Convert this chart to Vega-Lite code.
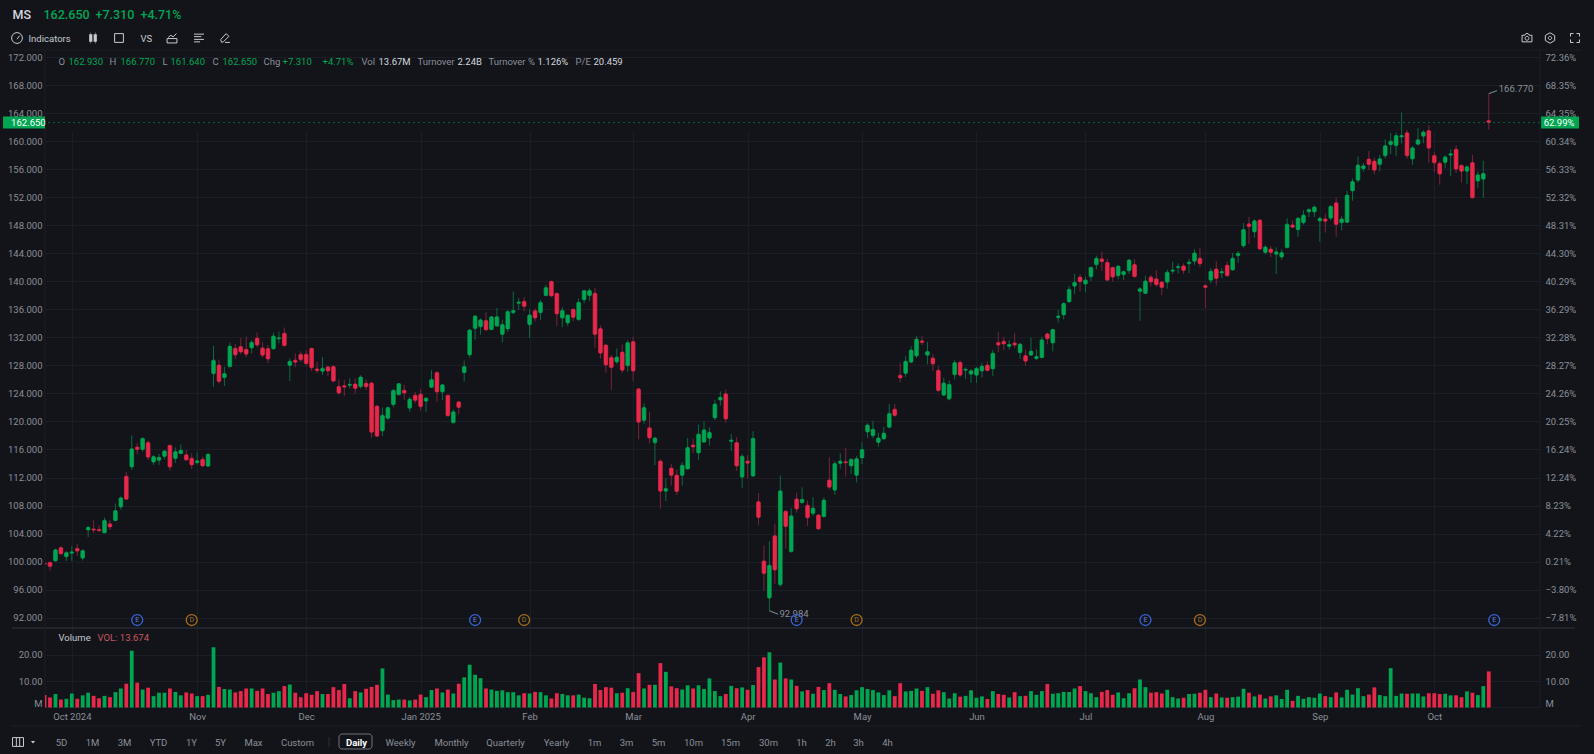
{
  "$schema": "https://vega.github.io/schema/vega-lite/v6.json",
  "width": 1495,
  "height": 657,
  "autosize": {"type": "none"},
  "padding": {"left": 45, "top": 51, "right": 54, "bottom": 46},
  "background": "#12141a",
  "config": {
    "view": {"stroke": null},
    "font": "Roboto",
    "axis": {"title": null, "domain": false, "ticks": false, "grid": false, "labelFont": "Roboto", "labelOverlap": false, "labelFlush": false, "labelBound": false, "labelAngle": 0, "labelColor": "#8b8f98", "labelFontSize": 9.5}
  },
  "datasets": {
    "candles": [
      {"day":-1,"o":99.8,"h":99.9,"l":99.4,"c":99.6,"v":4.7},
      {"day":0,"o":99.9,"h":99.9,"l":98.7,"c":99.3,"v":3.8},
      {"day":1,"o":100.1,"h":101.85,"l":100.0,"c":101.7,"v":5.1},
      {"day":2,"o":102.0,"h":102.2,"l":101.05,"c":101.1,"v":3.0},
      {"day":3,"o":100.7,"h":101.5,"l":100.1,"c":101.3,"v":3.3},
      {"day":4,"o":101.2,"h":102.2,"l":100.1,"c":101.4,"v":5.3},
      {"day":5,"o":101.9,"h":102.5,"l":100.85,"c":101.5,"v":3.3},
      {"day":6,"o":100.5,"h":101.75,"l":100.15,"c":101.6,"v":4.6},
      {"day":7,"o":104.5,"h":105.1,"l":103.5,"c":104.9,"v":5.6},
      {"day":8,"o":104.65,"h":105.9,"l":104.1,"c":104.5,"v":4.4},
      {"day":9,"o":104.6,"h":105.2,"l":104.3,"c":104.4,"v":3.5},
      {"day":10,"o":104.1,"h":106.3,"l":104.1,"c":105.9,"v":4.4},
      {"day":11,"o":105.4,"h":105.9,"l":104.5,"c":104.95,"v":3.9},
      {"day":12,"o":105.85,"h":108.3,"l":105.8,"c":107.3,"v":5.8},
      {"day":13,"o":107.8,"h":109.3,"l":107.4,"c":109.1,"v":7.2},
      {"day":14,"o":112.2,"h":112.8,"l":108.9,"c":108.9,"v":9.0},
      {"day":15,"o":113.5,"h":118.0,"l":113.1,"c":116.1,"v":21.5},
      {"day":16,"o":116.35,"h":116.9,"l":115.3,"c":116.0,"v":9.4},
      {"day":17,"o":116.0,"h":117.7,"l":115.7,"c":117.6,"v":6.8},
      {"day":18,"o":117.0,"h":117.3,"l":114.5,"c":114.9,"v":7.5},
      {"day":19,"o":114.2,"h":115.2,"l":113.8,"c":115.0,"v":4.3},
      {"day":20,"o":114.45,"h":115.4,"l":113.8,"c":114.9,"v":5.6},
      {"day":21,"o":115.0,"h":115.9,"l":114.6,"c":115.8,"v":5.6},
      {"day":22,"o":116.6,"h":116.6,"l":113.0,"c":113.5,"v":7.2},
      {"day":23,"o":114.7,"h":116.3,"l":114.1,"c":115.7,"v":5.9},
      {"day":24,"o":115.4,"h":116.7,"l":115.4,"c":115.9,"v":4.6},
      {"day":25,"o":115.25,"h":115.9,"l":114.45,"c":114.5,"v":5.7},
      {"day":26,"o":114.75,"h":115.45,"l":113.2,"c":113.8,"v":5.3},
      {"day":27,"o":114.1,"h":115.6,"l":113.85,"c":114.4,"v":4.3},
      {"day":28,"o":114.6,"h":115.0,"l":113.5,"c":113.65,"v":4.3},
      {"day":29,"o":113.6,"h":115.45,"l":113.55,"c":115.35,"v":4.8},
      {"day":30,"o":126.8,"h":130.8,"l":124.95,"c":128.75,"v":22.8},
      {"day":31,"o":128.05,"h":128.85,"l":125.4,"c":125.7,"v":7.8},
      {"day":32,"o":126.25,"h":127.8,"l":125.05,"c":126.85,"v":7.0},
      {"day":33,"o":127.8,"h":131.25,"l":127.75,"c":130.75,"v":6.8},
      {"day":34,"o":130.45,"h":131.05,"l":128.9,"c":129.5,"v":5.7},
      {"day":35,"o":130.7,"h":131.9,"l":129.6,"c":129.9,"v":6.2},
      {"day":36,"o":130.3,"h":132.1,"l":129.15,"c":129.6,"v":7.2},
      {"day":37,"o":130.5,"h":131.6,"l":129.7,"c":131.3,"v":7.2},
      {"day":38,"o":131.9,"h":132.7,"l":130.6,"c":130.9,"v":6.3},
      {"day":39,"o":130.5,"h":131.3,"l":129.15,"c":129.45,"v":7.2},
      {"day":40,"o":130.4,"h":130.9,"l":128.3,"c":128.9,"v":5.1},
      {"day":41,"o":130.35,"h":132.7,"l":130.3,"c":132.2,"v":5.6},
      {"day":42,"o":131.8,"h":132.8,"l":131.15,"c":131.95,"v":6.2},
      {"day":43,"o":132.6,"h":133.4,"l":130.75,"c":130.8,"v":8.1},
      {"day":44,"o":128.0,"h":129.0,"l":125.75,"c":128.6,"v":8.7},
      {"day":45,"o":128.75,"h":129.7,"l":127.75,"c":128.45,"v":5.6},
      {"day":46,"o":129.6,"h":130.0,"l":128.45,"c":128.8,"v":3.9},
      {"day":47,"o":129.6,"h":130.2,"l":127.9,"c":128.25,"v":5.4},
      {"day":48,"o":130.45,"h":130.45,"l":127.2,"c":127.65,"v":4.8},
      {"day":49,"o":127.5,"h":128.5,"l":126.9,"c":127.25,"v":6.2},
      {"day":50,"o":127.15,"h":129.2,"l":126.65,"c":127.6,"v":5.1},
      {"day":51,"o":127.8,"h":127.9,"l":126.45,"c":127.2,"v":5.1},
      {"day":52,"o":127.85,"h":128.05,"l":125.7,"c":125.75,"v":7.7},
      {"day":53,"o":125.0,"h":126.0,"l":123.8,"c":124.05,"v":6.6},
      {"day":54,"o":125.1,"h":125.9,"l":123.6,"c":124.9,"v":8.9},
      {"day":55,"o":125.15,"h":126.15,"l":124.7,"c":125.3,"v":3.5},
      {"day":56,"o":125.35,"h":126.15,"l":124.0,"c":124.7,"v":6.2},
      {"day":57,"o":124.95,"h":126.6,"l":124.7,"c":126.35,"v":5.7},
      {"day":58,"o":125.45,"h":126.0,"l":124.5,"c":124.95,"v":7.1},
      {"day":59,"o":125.5,"h":125.6,"l":117.7,"c":118.45,"v":7.8},
      {"day":60,"o":122.2,"h":122.3,"l":117.75,"c":117.9,"v":8.6},
      {"day":61,"o":118.65,"h":122.0,"l":117.9,"c":120.9,"v":14.8},
      {"day":62,"o":120.45,"h":122.1,"l":120.2,"c":122.0,"v":4.9},
      {"day":63,"o":122.4,"h":124.6,"l":122.0,"c":124.45,"v":2.8},
      {"day":64,"o":123.8,"h":125.4,"l":123.8,"c":125.4,"v":3.0},
      {"day":65,"o":124.45,"h":125.25,"l":123.1,"c":124.05,"v":3.0},
      {"day":66,"o":121.9,"h":123.5,"l":121.35,"c":123.2,"v":2.7},
      {"day":67,"o":123.75,"h":124.2,"l":122.6,"c":123.0,"v":3.0},
      {"day":68,"o":123.9,"h":124.6,"l":121.55,"c":122.1,"v":4.9},
      {"day":69,"o":122.9,"h":123.4,"l":121.4,"c":123.35,"v":3.9},
      {"day":70,"o":124.85,"h":127.3,"l":124.8,"c":126.0,"v":6.6},
      {"day":71,"o":127.0,"h":127.15,"l":122.8,"c":124.2,"v":7.2},
      {"day":72,"o":124.2,"h":125.35,"l":123.05,"c":125.25,"v":5.7},
      {"day":73,"o":123.75,"h":123.8,"l":120.75,"c":120.8,"v":6.8},
      {"day":74,"o":119.8,"h":121.7,"l":119.8,"c":121.4,"v":5.3},
      {"day":75,"o":122.8,"h":122.8,"l":121.05,"c":122.0,"v":9.0},
      {"day":76,"o":126.95,"h":128.7,"l":125.7,"c":127.85,"v":11.4},
      {"day":77,"o":129.5,"h":133.2,"l":129.1,"c":133.05,"v":16.2},
      {"day":78,"o":133.25,"h":135.2,"l":131.6,"c":135.05,"v":12.4},
      {"day":79,"o":133.5,"h":134.7,"l":132.4,"c":134.5,"v":11.1},
      {"day":80,"o":134.4,"h":135.6,"l":133.0,"c":133.05,"v":7.2},
      {"day":81,"o":133.1,"h":135.05,"l":133.05,"c":134.95,"v":6.8},
      {"day":82,"o":133.6,"h":136.2,"l":133.6,"c":134.95,"v":6.3},
      {"day":83,"o":132.4,"h":134.5,"l":131.25,"c":133.85,"v":6.5},
      {"day":84,"o":133.2,"h":135.9,"l":132.8,"c":135.7,"v":5.8},
      {"day":85,"o":135.5,"h":138.55,"l":135.3,"c":135.85,"v":5.8},
      {"day":86,"o":136.85,"h":137.6,"l":135.9,"c":137.05,"v":4.6},
      {"day":87,"o":137.15,"h":137.75,"l":135.7,"c":136.4,"v":5.4},
      {"day":88,"o":133.8,"h":136.0,"l":131.9,"c":135.2,"v":5.3},
      {"day":89,"o":135.8,"h":136.15,"l":134.3,"c":134.75,"v":5.9},
      {"day":90,"o":135.5,"h":137.35,"l":134.5,"c":137.0,"v":5.8},
      {"day":91,"o":137.95,"h":139.5,"l":137.9,"c":139.1,"v":4.6},
      {"day":92,"o":140.0,"h":140.05,"l":137.8,"c":137.9,"v":3.4},
      {"day":93,"o":138.3,"h":138.3,"l":133.6,"c":135.35,"v":5.4},
      {"day":94,"o":134.75,"h":136.3,"l":133.45,"c":135.85,"v":5.1},
      {"day":95,"o":134.05,"h":135.2,"l":133.6,"c":135.2,"v":4.6},
      {"day":96,"o":136.0,"h":136.15,"l":134.3,"c":134.85,"v":4.6},
      {"day":97,"o":134.5,"h":137.55,"l":134.45,"c":137.0,"v":4.9},
      {"day":98,"o":137.35,"h":138.75,"l":136.85,"c":138.7,"v":3.7},
      {"day":99,"o":137.95,"h":139.0,"l":137.2,"c":138.7,"v":3.5},
      {"day":100,"o":138.3,"h":139.05,"l":130.5,"c":132.4,"v":8.9},
      {"day":101,"o":133.25,"h":133.7,"l":128.95,"c":129.75,"v":6.6},
      {"day":102,"o":130.9,"h":131.05,"l":126.95,"c":128.05,"v":7.7},
      {"day":103,"o":129.15,"h":129.5,"l":124.5,"c":127.7,"v":7.5},
      {"day":104,"o":128.5,"h":130.4,"l":128.2,"c":129.2,"v":5.4},
      {"day":105,"o":129.9,"h":131.0,"l":126.9,"c":127.3,"v":5.6},
      {"day":106,"o":127.95,"h":131.6,"l":127.1,"c":131.25,"v":7.3},
      {"day":107,"o":131.4,"h":132.1,"l":125.8,"c":127.2,"v":5.9},
      {"day":108,"o":124.65,"h":124.7,"l":117.45,"c":119.9,"v":13.0},
      {"day":109,"o":120.15,"h":122.6,"l":119.65,"c":122.0,"v":7.2},
      {"day":110,"o":119.1,"h":121.35,"l":116.85,"c":117.65,"v":8.6},
      {"day":111,"o":116.95,"h":117.8,"l":113.75,"c":117.65,"v":8.6},
      {"day":112,"o":114.35,"h":114.6,"l":107.55,"c":110.05,"v":16.8},
      {"day":113,"o":110.05,"h":111.95,"l":108.65,"c":110.45,"v":13.5},
      {"day":114,"o":113.35,"h":113.95,"l":110.85,"c":112.3,"v":8.0},
      {"day":115,"o":112.35,"h":113.15,"l":109.5,"c":110.0,"v":7.3},
      {"day":116,"o":112.3,"h":114.2,"l":110.85,"c":113.75,"v":6.8},
      {"day":117,"o":113.2,"h":117.65,"l":113.15,"c":116.3,"v":8.4},
      {"day":118,"o":116.65,"h":117.55,"l":115.5,"c":116.35,"v":7.2},
      {"day":119,"o":115.5,"h":119.55,"l":114.5,"c":118.2,"v":8.4},
      {"day":120,"o":117.05,"h":120.05,"l":117.0,"c":118.8,"v":7.0},
      {"day":121,"o":117.6,"h":119.15,"l":116.55,"c":118.45,"v":11.0},
      {"day":122,"o":120.5,"h":123.05,"l":120.2,"c":122.5,"v":6.2},
      {"day":123,"o":123.05,"h":124.3,"l":122.25,"c":123.45,"v":4.3},
      {"day":124,"o":123.95,"h":124.55,"l":119.8,"c":120.35,"v":5.1},
      {"day":125,"o":117.15,"h":118.2,"l":115.8,"c":117.35,"v":8.2},
      {"day":126,"o":117.0,"h":117.75,"l":112.95,"c":113.65,"v":7.3},
      {"day":127,"o":112.05,"h":115.35,"l":110.5,"c":115.05,"v":7.6},
      {"day":128,"o":114.35,"h":115.2,"l":111.85,"c":114.05,"v":6.7},
      {"day":129,"o":112.2,"h":118.6,"l":112.2,"c":117.6,"v":8.5},
      {"day":130,"o":108.55,"h":109.8,"l":105.25,"c":106.3,"v":15.3},
      {"day":131,"o":100.1,"h":102.3,"l":95.85,"c":98.3,"v":19.0},
      {"day":132,"o":94.8,"h":102.9,"l":92.984,"c":99.5,"v":20.9},
      {"day":133,"o":103.7,"h":105.4,"l":96.8,"c":98.8,"v":10.6},
      {"day":134,"o":96.7,"h":112.3,"l":96.4,"c":110.1,"v":17.0},
      {"day":135,"o":107.2,"h":107.3,"l":101.85,"c":105.0,"v":11.0},
      {"day":136,"o":101.4,"h":107.65,"l":101.35,"c":106.55,"v":10.6},
      {"day":137,"o":108.95,"h":109.85,"l":107.0,"c":107.5,"v":8.2},
      {"day":138,"o":108.4,"h":110.6,"l":108.3,"c":108.9,"v":6.1},
      {"day":139,"o":108.05,"h":108.75,"l":105.1,"c":106.25,"v":6.6},
      {"day":140,"o":106.85,"h":109.2,"l":106.5,"c":107.65,"v":5.2},
      {"day":141,"o":106.65,"h":106.8,"l":104.55,"c":104.65,"v":7.8},
      {"day":142,"o":106.4,"h":109.15,"l":106.35,"c":108.8,"v":6.6},
      {"day":143,"o":111.65,"h":114.9,"l":110.3,"c":110.6,"v":9.2},
      {"day":144,"o":110.2,"h":114.3,"l":109.55,"c":114.0,"v":6.7},
      {"day":145,"o":114.0,"h":115.45,"l":113.25,"c":114.35,"v":5.1},
      {"day":146,"o":114.25,"h":116.2,"l":112.15,"c":114.1,"v":4.2},
      {"day":147,"o":113.65,"h":114.8,"l":112.5,"c":114.6,"v":4.7},
      {"day":148,"o":112.3,"h":115.05,"l":111.3,"c":114.7,"v":6.5},
      {"day":149,"o":114.8,"h":117.05,"l":113.9,"c":116.0,"v":7.7},
      {"day":150,"o":118.5,"h":119.75,"l":117.65,"c":119.5,"v":7.0},
      {"day":151,"o":117.95,"h":120.1,"l":117.6,"c":118.9,"v":6.6},
      {"day":152,"o":117.0,"h":118.4,"l":116.4,"c":117.65,"v":5.7},
      {"day":153,"o":117.5,"h":119.25,"l":117.45,"c":118.35,"v":4.7},
      {"day":154,"o":119.15,"h":122.5,"l":119.1,"c":121.15,"v":6.5},
      {"day":155,"o":121.75,"h":122.5,"l":120.65,"c":120.85,"v":4.3},
      {"day":156,"o":126.6,"h":128.4,"l":125.55,"c":126.2,"v":9.2},
      {"day":157,"o":126.85,"h":129.35,"l":126.35,"c":128.6,"v":6.1},
      {"day":158,"o":128.45,"h":130.75,"l":128.35,"c":130.2,"v":6.3},
      {"day":159,"o":129.35,"h":132.2,"l":129.05,"c":131.75,"v":7.2},
      {"day":160,"o":131.5,"h":132.2,"l":130.9,"c":131.25,"v":6.3},
      {"day":161,"o":129.45,"h":131.35,"l":128.15,"c":130.0,"v":7.7},
      {"day":162,"o":129.05,"h":129.6,"l":127.2,"c":128.2,"v":5.2},
      {"day":163,"o":127.3,"h":127.9,"l":124.25,"c":124.4,"v":6.5},
      {"day":164,"o":123.75,"h":126.25,"l":123.7,"c":125.5,"v":5.8},
      {"day":165,"o":123.2,"h":125.85,"l":123.0,"c":125.3,"v":3.4},
      {"day":166,"o":126.65,"h":128.75,"l":126.0,"c":128.4,"v":5.4},
      {"day":167,"o":128.45,"h":128.65,"l":126.4,"c":126.6,"v":4.1},
      {"day":168,"o":127.3,"h":127.7,"l":126.05,"c":127.45,"v":4.4},
      {"day":169,"o":126.75,"h":127.5,"l":125.5,"c":127.25,"v":6.5},
      {"day":170,"o":126.6,"h":127.75,"l":125.5,"c":127.6,"v":3.7},
      {"day":171,"o":127.2,"h":128.4,"l":126.25,"c":127.9,"v":4.2},
      {"day":172,"o":128.05,"h":128.6,"l":127.2,"c":127.25,"v":3.2},
      {"day":173,"o":127.5,"h":130.2,"l":126.5,"c":129.75,"v":6.2},
      {"day":174,"o":131.25,"h":132.75,"l":129.9,"c":130.9,"v":5.1},
      {"day":175,"o":131.45,"h":132.1,"l":130.2,"c":131.05,"v":4.8},
      {"day":176,"o":130.7,"h":131.6,"l":130.25,"c":131.0,"v":3.8},
      {"day":177,"o":131.2,"h":132.65,"l":130.5,"c":130.9,"v":5.8},
      {"day":178,"o":129.8,"h":131.2,"l":128.9,"c":131.05,"v":4.3},
      {"day":179,"o":129.4,"h":130.25,"l":127.95,"c":128.6,"v":4.4},
      {"day":180,"o":129.45,"h":132.0,"l":129.4,"c":130.05,"v":6.2},
      {"day":181,"o":128.95,"h":130.3,"l":128.8,"c":129.3,"v":4.8},
      {"day":182,"o":129.1,"h":132.1,"l":129.05,"c":131.65,"v":6.2},
      {"day":183,"o":132.5,"h":132.65,"l":131.0,"c":131.8,"v":8.9},
      {"day":184,"o":131.2,"h":133.2,"l":130.0,"c":133.15,"v":5.2},
      {"day":185,"o":134.8,"h":135.9,"l":134.1,"c":135.05,"v":5.4},
      {"day":186,"o":135.2,"h":137.0,"l":134.55,"c":136.85,"v":5.9},
      {"day":187,"o":137.05,"h":139.3,"l":137.0,"c":138.85,"v":5.9},
      {"day":188,"o":139.3,"h":141.05,"l":138.2,"c":139.85,"v":7.2},
      {"day":189,"o":140.6,"h":141.0,"l":138.55,"c":139.95,"v":8.1},
      {"day":190,"o":139.6,"h":140.7,"l":138.45,"c":140.2,"v":6.2},
      {"day":191,"o":140.65,"h":142.05,"l":140.05,"c":142.0,"v":5.4},
      {"day":192,"o":142.35,"h":143.65,"l":141.7,"c":143.3,"v":3.9},
      {"day":193,"o":143.2,"h":144.25,"l":141.5,"c":142.8,"v":5.9},
      {"day":194,"o":142.7,"h":143.2,"l":140.1,"c":140.15,"v":6.6},
      {"day":195,"o":142.0,"h":142.05,"l":139.95,"c":140.6,"v":4.8},
      {"day":196,"o":140.8,"h":142.25,"l":140.3,"c":142.2,"v":5.7},
      {"day":197,"o":140.95,"h":141.5,"l":140.2,"c":141.4,"v":3.5},
      {"day":198,"o":141.5,"h":143.15,"l":141.05,"c":143.05,"v":5.4},
      {"day":199,"o":142.4,"h":143.15,"l":140.6,"c":140.65,"v":7.3},
      {"day":200,"o":138.55,"h":139.15,"l":134.35,"c":138.95,"v":10.6},
      {"day":201,"o":138.25,"h":140.8,"l":138.25,"c":140.05,"v":7.7},
      {"day":202,"o":140.6,"h":140.9,"l":139.25,"c":139.9,"v":5.6},
      {"day":203,"o":140.35,"h":141.6,"l":139.25,"c":139.5,"v":5.8},
      {"day":204,"o":139.9,"h":140.05,"l":138.0,"c":139.1,"v":5.3},
      {"day":205,"o":139.85,"h":141.7,"l":138.95,"c":141.3,"v":6.7},
      {"day":206,"o":141.45,"h":142.8,"l":141.05,"c":141.6,"v":3.9},
      {"day":207,"o":141.95,"h":142.55,"l":141.1,"c":142.1,"v":3.4},
      {"day":208,"o":142.2,"h":142.55,"l":141.05,"c":141.55,"v":3.7},
      {"day":209,"o":142.5,"h":143.2,"l":141.15,"c":142.75,"v":5.1},
      {"day":210,"o":142.85,"h":144.6,"l":142.35,"c":144.05,"v":5.2},
      {"day":211,"o":143.3,"h":144.8,"l":142.0,"c":142.5,"v":5.6},
      {"day":212,"o":139.4,"h":139.6,"l":136.15,"c":139.1,"v":6.7},
      {"day":213,"o":140.15,"h":141.9,"l":139.7,"c":141.45,"v":3.9},
      {"day":214,"o":141.75,"h":142.85,"l":139.4,"c":140.4,"v":5.3},
      {"day":215,"o":141.2,"h":141.9,"l":140.45,"c":141.4,"v":3.8},
      {"day":216,"o":142.3,"h":142.8,"l":140.6,"c":140.8,"v":3.7},
      {"day":217,"o":141.6,"h":144.05,"l":141.55,"c":143.3,"v":3.9},
      {"day":218,"o":143.65,"h":144.3,"l":142.65,"c":144.0,"v":4.1},
      {"day":219,"o":145.05,"h":148.3,"l":144.8,"c":147.4,"v":7.1},
      {"day":220,"o":148.2,"h":149.15,"l":145.35,"c":147.8,"v":5.6},
      {"day":221,"o":147.05,"h":148.85,"l":146.2,"c":148.65,"v":4.2},
      {"day":222,"o":148.75,"h":148.85,"l":144.45,"c":144.6,"v":4.9},
      {"day":223,"o":144.1,"h":145.15,"l":143.85,"c":144.9,"v":3.4},
      {"day":224,"o":144.6,"h":145.05,"l":143.45,"c":144.1,"v":4.2},
      {"day":225,"o":143.85,"h":144.85,"l":141.05,"c":144.2,"v":4.6},
      {"day":226,"o":143.45,"h":144.55,"l":143.05,"c":144.1,"v":3.2},
      {"day":227,"o":144.8,"h":149.0,"l":144.7,"c":148.15,"v":6.7},
      {"day":228,"o":148.05,"h":148.7,"l":147.6,"c":147.7,"v":2.5},
      {"day":229,"o":147.35,"h":149.2,"l":146.35,"c":149.0,"v":4.4},
      {"day":230,"o":148.35,"h":150.15,"l":148.1,"c":149.45,"v":3.3},
      {"day":231,"o":149.9,"h":150.4,"l":149.15,"c":150.25,"v":3.9},
      {"day":232,"o":149.9,"h":150.85,"l":149.15,"c":150.6,"v":3.7},
      {"day":233,"o":148.6,"h":149.2,"l":145.65,"c":149.0,"v":5.3},
      {"day":234,"o":148.9,"h":149.65,"l":146.95,"c":148.55,"v":4.3},
      {"day":235,"o":149.0,"h":150.9,"l":148.7,"c":150.7,"v":3.9},
      {"day":236,"o":151.2,"h":152.0,"l":146.35,"c":148.1,"v":5.7},
      {"day":237,"o":148.35,"h":149.3,"l":147.25,"c":148.9,"v":3.8},
      {"day":238,"o":148.4,"h":152.9,"l":148.35,"c":152.3,"v":6.7},
      {"day":239,"o":152.9,"h":154.65,"l":151.5,"c":154.25,"v":4.9},
      {"day":240,"o":154.4,"h":157.8,"l":154.1,"c":156.6,"v":7.3},
      {"day":241,"o":156.05,"h":156.9,"l":155.65,"c":156.5,"v":4.3},
      {"day":242,"o":157.45,"h":158.6,"l":155.9,"c":156.65,"v":4.9},
      {"day":243,"o":157.15,"h":157.65,"l":155.25,"c":155.85,"v":7.6},
      {"day":244,"o":156.65,"h":158.05,"l":155.7,"c":157.5,"v":4.7},
      {"day":245,"o":157.9,"h":160.25,"l":157.5,"c":159.35,"v":4.3},
      {"day":246,"o":159.5,"h":161.15,"l":158.15,"c":160.0,"v":14.9},
      {"day":247,"o":159.35,"h":161.2,"l":157.85,"c":160.8,"v":4.4},
      {"day":248,"o":160.6,"h":164.1,"l":159.65,"c":160.8,"v":5.3},
      {"day":249,"o":161.2,"h":161.6,"l":157.5,"c":157.9,"v":5.2},
      {"day":250,"o":157.45,"h":159.3,"l":156.6,"c":159.05,"v":5.3},
      {"day":251,"o":159.55,"h":161.85,"l":159.35,"c":160.2,"v":5.3},
      {"day":252,"o":160.7,"h":161.55,"l":159.7,"c":161.3,"v":4.2},
      {"day":253,"o":161.5,"h":162.3,"l":156.9,"c":159.0,"v":5.4},
      {"day":254,"o":157.95,"h":158.5,"l":155.6,"c":156.9,"v":5.4},
      {"day":255,"o":156.85,"h":157.1,"l":153.8,"c":155.3,"v":5.1},
      {"day":256,"o":156.95,"h":158.0,"l":156.15,"c":157.75,"v":5.2},
      {"day":257,"o":158.0,"h":158.85,"l":155.0,"c":158.2,"v":4.6},
      {"day":258,"o":158.85,"h":159.4,"l":155.45,"c":156.0,"v":4.6},
      {"day":259,"o":156.55,"h":156.65,"l":154.1,"c":155.7,"v":3.9},
      {"day":260,"o":155.7,"h":156.55,"l":153.85,"c":156.35,"v":6.1},
      {"day":261,"o":156.95,"h":158.05,"l":151.9,"c":151.9,"v":5.6},
      {"day":262,"o":154.3,"h":155.7,"l":153.35,"c":155.2,"v":4.7},
      {"day":263,"o":154.55,"h":157.2,"l":151.9,"c":155.4,"v":8.1},
      {"day":264,"o":162.93,"h":166.77,"l":161.64,"c":162.65,"v":13.67}
    ],
    "events": [
      {"day":16,"kind":"E"},{"day":26,"kind":"D"},{"day":78,"kind":"E"},{"day":87,"kind":"D"},
      {"day":137,"kind":"E"},{"day":148,"kind":"D"},{"day":201,"kind":"E"},{"day":211,"kind":"D"},{"day":265,"kind":"E"}
    ]
  },
  "resolve": {
    "scale": {"x": "independent", "y": "independent"},
    "axis": {"x": "independent", "y": "independent"}
  },
  "layer": [
    {
      "resolve": {"scale": {"x": "shared", "y": "shared"}, "axis": {"x": "independent", "y": "independent"}},
      "layer": [
        {"data": {"values": []}, "mark": "rule", "encoding": {
          "x": {"field": "px", "type": "quantitative", "scale": {"domain": [0, 1594], "range": [-45, 1549], "nice": false, "zero": false},
            "axis": {"orient": "top", "offset": 37, "labelPadding": 0, "labelBaseline": "middle", "labelAlign": "left", "labelFontSize": 12.5, "labelFontWeight": 500,
              "values": [12, 43, 95, 140],
              "labelExpr": "['MS','162.650','+7.310','+4.71%'][indexof([12,43,95,140],datum.value)]",
              "labelColor": {"expr": "datum.value==12?'#d5d8de':'#00a651'"}}},
          "y": {"field": "py", "type": "quantitative", "axis": null, "scale": {"domain": [0, 754], "range": [-51, 703], "nice": false, "zero": false}}
        }},
        {"data": {"values": []}, "mark": "rule", "encoding": {
          "x": {"field": "px", "type": "quantitative",
            "axis": {"orient": "top", "offset": 13, "labelPadding": 0, "labelBaseline": "middle", "labelAlign": "left", "labelFontSize": 9.5, "labelColor": "#c7cad1",
              "values": [28, 140],
              "labelExpr": "datum.value==28?'Indicators':'VS'"}}
        }},
        {"data": {"values": []}, "mark": "rule", "encoding": {
          "x": {"field": "px", "type": "quantitative",
            "axis": {"orient": "top", "offset": -10, "labelPadding": 0, "labelBaseline": "middle", "labelAlign": "left",
              "values": [58,68,109,120,162,170,212,222,263,282,322,361,378,417,457,488,537,575,593],
              "labelExpr": "['O','162.930','H','166.770','L','161.640','C','162.650','Chg','+7.310','+4.71%','Vol','13.67M','Turnover','2.24B','Turnover %','1.126%','P/E','20.459'][indexof([58,68,109,120,162,170,212,222,263,282,322,361,378,417,457,488,537,575,593],datum.value)]",
              "labelColor": {"expr": "indexof([68,120,170,222,282,322],datum.value)>=0?'#00a651':indexof([378,457,537,593],datum.value)>=0?'#d5d8de':'#8b8f98'"}}}
        }},
        {"data": {"values": []}, "mark": "rule", "encoding": {
          "x": {"field": "px", "type": "quantitative",
            "axis": {"orient": "top", "offset": -586, "labelPadding": 0, "labelBaseline": "middle", "labelAlign": "left",
              "values": [58, 97],
              "labelExpr": "datum.value==58?'Volume':'VOL: 13.674'",
              "labelColor": {"expr": "datum.value==58?'#c7cad1':'#c9585f'"}}}
        }},
        {"data": {"values": []}, "mark": "rule", "encoding": {
          "x": {"field": "px", "type": "quantitative",
            "axis": {"orient": "bottom", "offset": 34, "labelPadding": 0, "labelBaseline": "middle", "labelAlign": "center",
              "values": [61,92,124,158,191,220,253,297,356,400,451,505,556,594,626,658,693,730,768,801,830,858,887],
              "labelExpr": "['5D','1M','3M','YTD','1Y','5Y','Max','Custom','Daily','Weekly','Monthly','Quarterly','Yearly','1m','3m','5m','10m','15m','30m','1h','2h','3h','4h'][indexof([61,92,124,158,191,220,253,297,356,400,451,505,556,594,626,658,693,730,768,801,830,858,887],datum.value)]",
              "labelColor": {"expr": "datum.value==356?'#ffffff':'#8b8f98'"},
              "labelFontWeight": {"expr": "datum.value==356?700:400"}}}
        }},
        {"data": {"values": [{}]}, "mark": {"type": "rect", "fillOpacity": 0, "stroke": "#6d727c", "strokeWidth": 1, "cornerRadius": 3}, "encoding": {
          "x": {"datum": 339, "axis": null}, "x2": {"datum": 372}, "y": {"datum": 734, "axis": null}, "y2": {"datum": 749}}},
        {"data": {"values": [{}]}, "mark": {"type": "rule", "stroke": "#2a2e36"}, "encoding": {
          "x": {"datum": 329, "axis": null}, "y": {"datum": 737, "axis": null}, "y2": {"datum": 747}}},
        {"data": {"values": [{}]}, "mark": {"type": "point", "opacity": 1, "filled": false, "stroke": "#c7cad1", "strokeWidth": 1, "size": 144, "shape": "M-0.9 0A0.9 0.9 0 1 1 0.9 0A0.9 0.9 0 1 1 -0.9 0M0 0.2L0.45 -0.4"}, "encoding": {"x": {"datum": 17, "axis": null}, "y": {"datum": 38, "axis": null}}},
        {"data": {"values": [{}]}, "mark": {"type": "point", "opacity": 1, "filled": true, "color": "#c7cad1", "size": 121, "shape": "M-0.7 -0.7H-0.12V0.7H-0.7ZM0.12 -0.7H0.7V0.7H0.12ZM-0.45 -1H-0.37V1H-0.45ZM0.37 -1H0.45V1H0.37Z"}, "encoding": {"x": {"datum": 93, "axis": null}, "y": {"datum": 38, "axis": null}}},
        {"data": {"values": [{}]}, "mark": {"type": "point", "opacity": 1, "filled": false, "stroke": "#c7cad1", "strokeWidth": 1, "size": 121, "shape": "M-0.8 -0.8H0.8V0.8H-0.8Z"}, "encoding": {"x": {"datum": 119, "axis": null}, "y": {"datum": 38, "axis": null}}},
        {"data": {"values": [{}]}, "mark": {"type": "point", "opacity": 1, "filled": false, "stroke": "#c7cad1", "strokeWidth": 1, "size": 121, "shape": "M-0.9 0.1H0.9V0.9H-0.9ZM-0.7 -0.1L-0.2 -0.5L0.2 -0.2L0.8 -0.8"}, "encoding": {"x": {"datum": 172, "axis": null}, "y": {"datum": 38, "axis": null}}},
        {"data": {"values": [{}]}, "mark": {"type": "point", "opacity": 1, "filled": false, "stroke": "#c7cad1", "strokeWidth": 1, "size": 121, "shape": "M-0.9 -0.7H0.9M-0.9 -0.25H0.4M-0.9 0.25H0.9M-0.9 0.7H0.2"}, "encoding": {"x": {"datum": 199, "axis": null}, "y": {"datum": 38, "axis": null}}},
        {"data": {"values": [{}]}, "mark": {"type": "point", "opacity": 1, "filled": false, "stroke": "#c7cad1", "strokeWidth": 1, "size": 121, "shape": "M-0.6 0.8L-0.8 0.3L0.2 -0.8L0.7 -0.3L-0.3 0.7ZM0 0.8H0.9"}, "encoding": {"x": {"datum": 225, "axis": null}, "y": {"datum": 38, "axis": null}}},
        {"data": {"values": [{}]}, "mark": {"type": "point", "opacity": 1, "filled": false, "stroke": "#c7cad1", "strokeWidth": 1, "size": 121, "shape": "M-0.9 -0.5H-0.4L-0.2 -0.8H0.2L0.4 -0.5H0.9V0.7H-0.9ZM-0.35 0.05A0.35 0.35 0 1 1 0.35 0.05A0.35 0.35 0 1 1 -0.35 0.05"}, "encoding": {"x": {"datum": 1527, "axis": null}, "y": {"datum": 38, "axis": null}}},
        {"data": {"values": [{}]}, "mark": {"type": "point", "opacity": 1, "filled": false, "stroke": "#c7cad1", "strokeWidth": 1, "size": 121, "shape": "M0 -0.95L0.85 -0.47V0.47L0 0.95L-0.85 0.47V-0.47ZM-0.3 0A0.3 0.3 0 1 1 0.3 0A0.3 0.3 0 1 1 -0.3 0"}, "encoding": {"x": {"datum": 1550, "axis": null}, "y": {"datum": 38, "axis": null}}},
        {"data": {"values": [{}]}, "mark": {"type": "point", "opacity": 1, "filled": false, "stroke": "#c7cad1", "strokeWidth": 1, "size": 100, "shape": "M-0.9 -0.3V-0.9H-0.3M0.3 -0.9H0.9V-0.3M0.9 0.3V0.9H0.3M-0.3 0.9H-0.9V0.3"}, "encoding": {"x": {"datum": 1575, "axis": null}, "y": {"datum": 38, "axis": null}}},
        {"data": {"values": [{}]}, "mark": {"type": "point", "opacity": 1, "filled": false, "stroke": "#c7cad1", "strokeWidth": 1, "size": 121, "shape": "M-1 -0.8H1V0.8H-1ZM-0.3 -0.8V0.8M0.3 -0.8V0.8"}, "encoding": {"x": {"datum": 18, "axis": null}, "y": {"datum": 742, "axis": null}}},
        {"data": {"values": [{}]}, "mark": {"type": "point", "opacity": 1, "filled": true, "color": "#c7cad1", "size": 49, "shape": "M-0.6 -0.3H0.6L0 0.4Z"}, "encoding": {"x": {"datum": 33, "axis": null}, "y": {"datum": 742, "axis": null}}}
      ]
    },
    {
      "resolve": {"scale": {"x": "shared", "y": "shared"}, "axis": {"x": "independent", "y": "independent"}},
      "layer": [
        {
          "data": {"name": "candles"},
          "mark": {"type": "rule", "strokeWidth": 1, "clip": true},
          "encoding": {
            "x": {"field": "day", "type": "quantitative", "scale": {"domain": [-0.92, 273.4], "range": [0, 1495], "nice": false, "zero": false, "padding": 0},
              "axis": {"orient": "bottom", "labelPadding": 3, "labelBaseline": "top", "grid": true, "gridColor": "#1b1e25", "labelFontSize": 9.5,
                "values": [4,27,47,68,88,107,128,149,170,190,212,233,254],
                "labelExpr": "['Oct 2024','Nov','Dec','Jan 2025','Feb','Mar','Apr','May','Jun','Jul','Aug','Sep','Oct'][indexof([4,27,47,68,88,107,128,149,170,190,212,233,254],datum.value)]"}},
            "y": {"field": "l", "type": "quantitative", "scale": {"domain": [90.53, 172.86], "range": [577, 0], "nice": false, "zero": false},
              "axis": {"orient": "left", "labelPadding": 3, "grid": true, "gridColor": "#1b1e25", "format": ".3f",
                "values": [92,96,100,104,108,112,116,120,124,128,132,136,140,144,148,152,156,160,164,168,172]}},
            "y2": {"field": "h"},
            "color": {"condition": {"test": "datum.c<datum.o", "value": "#7d2238"}, "value": "#0b6a40"}
          }
        },
        {
          "data": {"name": "candles"},
          "mark": {"type": "bar", "size": 3.7, "strokeWidth": 0.7, "cornerRadius": 1, "clip": true},
          "encoding": {
            "x": {"field": "day", "type": "quantitative", "axis": null},
            "y": {"field": "o", "type": "quantitative", "axis": null},
            "y2": {"field": "c"},
            "fill": {"condition": {"test": "datum.c<datum.o", "value": "#e8284a"}, "value": "#00a651"},
            "stroke": {"condition": {"test": "datum.c<datum.o", "value": "#e8284a"}, "value": "#00a651"}
          }
        },
        {
          "data": {"values": [{"last": 162.65}]},
          "mark": {"type": "rule", "stroke": "#00a651", "strokeOpacity": 0.55, "strokeWidth": 1, "strokeDash": [2, 3]},
          "encoding": {
            "y": {"field": "last", "type": "quantitative",
              "axis": {"orient": "right", "labelPadding": 5, "labelAlign": "left",
                "values": [92,96,100,104,108,112,116,120,124,128,132,136,140,144,148,152,156,160,164,168,172],
                "labelExpr": "format((datum.value-99.79)/99.79*100,'.2f')+'%'"}}
          }
        },
        {
          "data": {"values": [{}]},
          "mark": {"type": "rule", "stroke": "#2c3440", "strokeWidth": 1},
          "encoding": {"x": {"datum": -6.97, "axis": null}, "x2": {"datum": 279.8}, "y": {"datum": 90.53, "axis": null}}
        },
        {
          "data": {"values": [{}]},
          "mark": {"type": "rule", "stroke": "#1b1e25", "strokeWidth": 1},
          "encoding": {"x": {"datum": -6.97, "axis": null}, "x2": {"datum": 280.9}, "y": {"datum": 76.54, "axis": null}}
        },
        {
          "data": {"values": [{}]},
          "mark": {"type": "rule", "stroke": "#1b1e25", "strokeWidth": 1},
          "encoding": {"x": {"datum": -6.97, "axis": null}, "x2": {"datum": 280.9}, "y": {"datum": 173.0, "axis": null}}
        },
        {
          "data": {"values": [{}]},
          "mark": {"type": "rule", "stroke": "#1b1e25", "strokeWidth": 1},
          "encoding": {"x": {"datum": 273.4, "axis": null}, "y": {"datum": 172.86, "axis": null}, "y2": {"datum": 79.11}}
        },
        {
          "data": {"values": [{}]},
          "mark": {"type": "rule", "stroke": "#1b1e25", "strokeWidth": 1},
          "encoding": {"x": {"datum": -0.92, "axis": null}, "y": {"datum": 172.86, "axis": null}, "y2": {"datum": 79.11}}
        },
        {
          "data": {"values": [{}]},
          "mark": {"type": "rect", "color": "#00a651"},
          "encoding": {"x": {"datum": -8.62, "axis": null}, "x2": {"datum": -0.92}, "y": {"datum": 163.5, "axis": null}, "y2": {"datum": 161.8}}
        },
        {
          "data": {"values": [{}]},
          "mark": {"type": "rect", "color": "#00a651"},
          "encoding": {"x": {"datum": 273.6, "axis": null}, "x2": {"datum": 280.55}, "y": {"datum": 163.5, "axis": null}, "y2": {"datum": 161.8}}
        },
        {
          "data": {"values": [{"last": 162.65}]},
          "mark": {"type": "text", "color": "#ffffff", "fontSize": 9.5, "baseline": "middle"},
          "encoding": {"x": {"datum": -3.97, "axis": null}, "y": {"field": "last", "type": "quantitative", "axis": null}, "text": {"field": "last", "format": ".3f"}}
        },
        {
          "data": {"values": [{"pct": "62.99%", "last": 162.65}]},
          "mark": {"type": "text", "color": "#ffffff", "fontSize": 9.5, "baseline": "middle"},
          "encoding": {"x": {"datum": 276.9, "axis": null}, "y": {"field": "last", "type": "quantitative", "axis": null}, "text": {"field": "pct"}}
        },
        {
          "data": {"values": [{}]},
          "mark": {"type": "rule", "stroke": "#8b8f98", "strokeWidth": 1},
          "encoding": {"x": {"datum": 264, "axis": null}, "x2": {"datum": 265.5}, "y": {"datum": 166.77, "axis": null}, "y2": {"datum": 167.2}}
        },
        {
          "data": {"values": [{}]},
          "mark": {"type": "rule", "stroke": "#8b8f98", "strokeWidth": 1},
          "encoding": {"x": {"datum": 132, "axis": null}, "x2": {"datum": 133.6}, "y": {"datum": 92.984, "axis": null}, "y2": {"datum": 92.5}}
        },
        {
          "data": {"name": "candles"},
          "transform": [{"filter": "datum.day==264"}],
          "mark": {"type": "text", "align": "left", "baseline": "middle", "dx": 10, "dy": -5, "fontSize": 9.5, "color": "#8b8f98"},
          "encoding": {"x": {"field": "day", "type": "quantitative", "axis": null}, "y": {"field": "h", "type": "quantitative", "axis": null}, "text": {"field": "h", "format": ".3f"}}
        },
        {
          "data": {"name": "candles"},
          "transform": [{"filter": "datum.day==132"}],
          "mark": {"type": "text", "align": "left", "baseline": "middle", "dx": 10, "dy": 3.5, "fontSize": 9.5, "color": "#8b8f98"},
          "encoding": {"x": {"field": "day", "type": "quantitative", "axis": null}, "y": {"field": "l", "type": "quantitative", "axis": null}, "text": {"field": "l", "format": ".3f"}}
        },
        {
          "data": {"name": "events"},
          "mark": {"type": "point", "shape": "circle", "size": 120, "opacity": 1, "filled": false, "strokeWidth": 1.3},
          "encoding": {
            "x": {"field": "day", "type": "quantitative", "axis": null},
            "y": {"datum": 91.67, "axis": null},
            "color": {"condition": {"test": "datum.kind=='E'", "value": "#3a63d8"}, "value": "#a8701a"}
          }
        },
        {
          "data": {"name": "events"},
          "mark": {"type": "text", "fontSize": 7, "baseline": "middle"},
          "encoding": {
            "x": {"field": "day", "type": "quantitative", "axis": null},
            "y": {"datum": 91.67, "axis": null},
            "text": {"field": "kind"},
            "color": {"condition": {"test": "datum.kind=='E'", "value": "#5f82e6"}, "value": "#a8701a"}
          }
        }
      ]
    },
    {
      "resolve": {"scale": {"x": "shared", "y": "shared"}, "axis": {"x": "independent", "y": "independent"}},
      "layer": [
        {
          "data": {"values": []},
          "mark": "rule",
          "encoding": {
            "y": {"field": "v", "type": "quantitative", "scale": {"domain": [-0.19, 30.1], "range": [657, 577], "nice": false, "zero": false},
              "axis": {"orient": "left", "labels": false, "grid": true, "gridColor": "#1b1e25", "values": [0, 10, 20]}}
          }
        },
        {
          "data": {"values": []},
          "mark": "rule",
          "encoding": {
            "y": {"field": "v", "type": "quantitative",
              "axis": {"orient": "right", "labelPadding": 5, "labelAlign": "left", "values": [1.7, 10, 20],
                "labelExpr": "datum.value<2?'M':format(datum.value,'.2f')"}}
          }
        },
        {
          "data": {"name": "candles"},
          "mark": {"type": "bar", "size": 3.8, "clip": true},
          "encoding": {
            "x": {"field": "day", "type": "quantitative", "axis": null, "scale": {"domain": [-0.92, 273.4], "range": [0, 1495], "nice": false, "zero": false, "padding": 0}},
            "y": {"field": "v", "type": "quantitative",
              "axis": {"orient": "left", "labelPadding": 3, "values": [1.7, 10, 20],
                "labelExpr": "datum.value<2?'M':format(datum.value,'.2f')"}},
            "y2": {"datum": 0},
            "color": {"condition": {"test": "datum.c<datum.o", "value": "#e8284a"}, "value": "#00a651"}
          }
        }
      ]
    }
  ]
}
